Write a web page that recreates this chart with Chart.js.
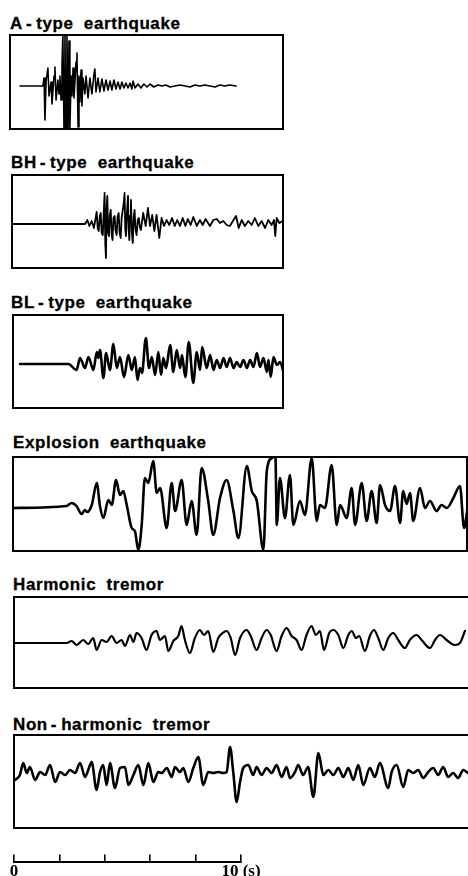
<!DOCTYPE html>
<html>
<head>
<meta charset="utf-8">
<script src="https://cdn.jsdelivr.net/npm/chart.js@4/dist/chart.umd.min.js"></script>
<style>
  html, body { margin:0; padding:0; background:#fff; }
  body { width:468px; height:876px; overflow:hidden; position:relative; }
  .ttl { position:absolute; font-family:"Liberation Sans", Arial, sans-serif; font-weight:bold; font-size:17px; line-height:17px; letter-spacing:0.6px; word-spacing:5px; color:#000; white-space:nowrap; -webkit-text-stroke:0.3px #000; }
  .ttl .h { margin:0 4px 0 3px; }
  canvas { position:absolute; }
</style>
</head>
<body>
<div class="ttl" style="left:10px;top:15px">A<span class="h">-</span>type earthquake</div>
<div class="ttl" style="left:11px;top:154px">BH<span class="h">-</span>type earthquake</div>
<div class="ttl" style="left:11px;top:294px">BL<span class="h">-</span>type earthquake</div>
<div class="ttl" style="left:13px;top:434px">Explosion earthquake</div>
<div class="ttl" style="left:13px;top:576px">Harmonic tremor</div>
<div class="ttl" style="left:13px;top:716px">Non<span class="h">-</span>harmonic tremor</div>

<canvas id="cA"></canvas>
<canvas id="cBH"></canvas>
<canvas id="cBL"></canvas>
<canvas id="cEx"></canvas>
<canvas id="cHa"></canvas>
<canvas id="cNh"></canvas>
<canvas id="cScale"></canvas>

<script>
// ---------------- DATA (time in s, amplitude in relative units) ----------------
const aTimes = [0.44,1.45,1.50,1.54,1.59,1.67,1.72,1.81,1.85,1.94,1.98,2.03,2.11,2.16,2.20,2.25,2.29,2.33,2.38,2.42,2.47,2.51,2.56,2.60,2.64,2.69,2.73,2.78,2.82,2.91,2.95,3.00,3.04,3.08,3.13,3.17,3.22,3.30,3.35,3.44,3.52,3.61,3.70,3.74,3.79,3.88,3.96,4.05,4.14,4.23,4.32,4.41,4.49,4.58,4.67,4.76,4.85,4.93,5.02,5.11,5.20,5.29,5.37,5.42,5.51,5.64,5.77,5.90,6.04,6.17,6.34,6.52,6.70,6.87,7.05,7.27,7.49,7.71,7.93,8.15,8.37,8.59,8.81,9.03,9.25,9.47,9.69,9.96];
const aValues = [0,0,8,-34,5,18,-10,4,-18,10,19,-14,6,-8,10,-14,20,51,-43,51,-43,51,-43,45,-43,10,-10,18,-12,24,33,-41,10,-16,16,-20,8,-8,10,-12,8,-8,12,17,-6,8,-6,7,-5,6,-4,5,-4,6,-3,4,-3,4,-2,3,-2,3,-3,5,-2,2,-2,2,-1,2,-1,1,0,1,-1,0,1,0,-1,1,0,1,0,-1,1,0,1,0];

const bhTimes = [0,3.22,3.32,3.41,3.51,3.61,
  3.73,3.78,3.82,3.87,3.91,3.95,4.00,4.04,4.08,4.11,4.14,4.17,4.20,4.23,4.27,4.31,4.35,4.39,4.43,4.47,4.52,4.56,4.61,4.65,4.70,4.74,4.79,4.83,4.88,4.92,4.96,4.99,5.02,5.06,5.11,5.14,5.17,5.20,5.24,5.28,5.32,5.36,5.40,5.44,5.49,5.54,5.59,5.63,5.68,
  5.78,5.89,5.99,6.08,6.18,6.27,6.37,6.49,6.59,6.70,6.81,6.93,7.05,7.17,7.28,7.40,7.52,7.64,7.75,7.87,7.99,8.14,8.28,8.40,8.53,8.72,8.87,9.02,9.16,9.31,9.46,9.60,9.76,9.87,9.99,10.12,10.26,10.41,10.56,10.70,10.85,11.00,11.15,11.29,11.44,11.54,11.60,11.66,11.78,11.92];
const bhValues = [0,0,4,-2,3,-4,
  12,-5,-7,8,11,-9,-11,10,31,-20,-34,15,28,-8,-12,9,14,-10,-16,6,8,-6,-11,7,11,-9,-14,6,14,20,31,-5,-12,10,28,-6,-16,8,24,-8,-19,6,14,-5,-11,4,6,-3,-6,
  11,-2,16,-2,9,-7,9,-14,6,-2,4,-1,6,-2,4,-2,6,-2,5,-1,7,-2,4,-1,5,-2,4,5,1,3,-1,-2,4,8,-4,4,-2,3,-1,6,-2,3,-4,4,-1,4,-12,6,1,3];

const blTimes = [0.31,2.44,2.80,2.95,3.17,3.32,3.54,3.69,3.76,3.83,3.98,4.10,4.27,4.42,4.57,4.71,4.89,5.08,5.23,5.37,5.48,5.59,5.68,5.85,5.99,6.11,6.26,6.40,6.52,6.62,6.74,6.92,7.06,7.21,7.36,7.44,7.59,7.74,7.94,8.09,8.24,8.33,8.53,8.68,8.83,8.97,9.12,9.27,9.41,9.56,9.71,9.85,10.00,10.15,10.30,10.44,10.59,10.74,10.88,11.03,11.18,11.25,11.35,11.47,11.62,11.76,11.94];
const blValues = [0,0,-6,6,-4,7,-6,12,6,14,-14,11,-6,20,-4,7,-13,9,-6,7,-16,-4,-9,26,-4,7,-11,12,-11,6,-4,19,-8,14,-4,9,-13,22,-19,12,-6,17,-4,9,-6,4,-4,6,-3,6,-4,2,-3,4,-4,4,-3,11,-3,6,-8,4,-13,7,-1,2,-11];

const exTimes = [0,2.36,2.58,2.80,3.02,3.17,3.27,3.47,3.69,3.83,3.98,4.20,4.35,4.54,4.71,4.86,5.01,5.23,5.37,5.52,5.67,5.81,5.96,6.18,6.33,6.48,6.77,6.99,7.14,7.43,7.65,7.87,8.09,8.31,8.60,8.82,9.12,9.41,9.71,9.93,10.30,10.52,10.74,11.03,11.18,11.40,11.56,11.62,11.76,11.98,12.20,12.35,12.64,12.86,13.16,13.38,13.52,13.74,14.04,14.26,14.41,14.70,14.92,15.07,15.36,15.58,15.80,16.02,16.17,16.39,16.61,16.83,17.05,17.19,17.34,17.49,17.63,17.93,18.15,18.37,18.66,18.88,19.11,19.40,19.69,19.87,20.04];
const exValues = [0,2,5,2,-6,-2,-4,3,25,2,-10,8,3,28,13,17,3,-20,-23,-42,-17,30,25,47,15,20,-20,25,-3,28,-17,7,-27,40,7,-27,10,28,-3,-30,42,17,7,-42,37,50,52,-17,30,-10,33,-17,7,-7,50,-13,3,0,43,-17,3,-10,20,-17,25,-13,17,-15,23,3,-3,22,-15,17,4,15,-13,20,0,7,-3,3,0,10,22,-20,3];

const haTimes = [0,2.32,2.54,2.76,3.05,3.27,3.49,3.64,3.86,4.08,4.30,4.52,4.74,4.89,5.11,5.26,5.40,5.62,5.84,6.06,6.28,6.43,6.65,6.80,7.02,7.24,7.38,7.53,7.75,7.97,8.19,8.37,8.56,8.78,9.00,9.19,9.37,9.55,9.74,9.96,10.25,10.43,10.69,10.91,11.13,11.31,11.57,11.79,12.01,12.23,12.45,12.67,12.89,13.11,13.30,13.48,13.66,13.89,14.07,14.29,14.51,14.73,14.88,15.07,15.21,15.46,15.68,15.86,16.05,16.27,16.49,16.71,16.93,17.22,17.44,17.74,17.96,18.33,18.55,18.77,19.06,19.43,19.65,19.87];
const haValues = [0,0,2,-2,3,-1,5,-7,3,1,7,0,3,-3,8,1,10,5,-7,8,12,3,7,-8,2,7,17,3,-10,5,13,8,12,-9,5,10,12,5,-12,5,13,7,-7,5,13,8,-8,7,15,7,3,-7,8,17,8,12,-7,10,13,8,-5,8,12,5,7,-8,7,13,5,-7,5,10,3,-5,3,8,3,-5,3,8,3,-2,0,12];

const nhTimes = [0.04,0.26,0.41,0.56,0.70,0.93,1.15,1.37,1.59,1.81,2.03,2.25,2.47,2.69,2.91,3.13,3.27,3.42,3.64,3.79,3.93,4.08,4.23,4.45,4.67,4.89,5.04,5.26,5.48,5.70,5.92,6.14,6.36,6.51,6.73,6.95,7.09,7.31,7.46,7.68,7.90,8.12,8.34,8.56,8.78,9.00,9.22,9.37,9.52,9.66,9.81,9.96,10.10,10.32,10.54,10.69,10.91,11.13,11.35,11.57,11.79,12.01,12.16,12.38,12.52,12.74,12.96,13.19,13.41,13.63,13.85,14.07,14.29,14.51,14.73,14.95,15.17,15.39,15.68,15.90,16.12,16.49,16.64,16.86,17.15,17.37,17.59,17.81,18.03,18.25,18.47,18.69,18.91,19.13,19.35,19.57,19.79,20.00];
const nhValues = [-5,0,12,2,8,-5,3,0,10,-7,3,0,5,2,12,-2,5,13,-15,3,10,-10,12,-13,7,8,-10,0,10,-10,12,-7,3,2,7,-2,8,3,7,-7,7,18,-10,3,2,3,2,3,28,3,-27,-7,7,10,0,8,0,7,2,10,-2,8,-3,3,10,0,8,-22,22,0,5,0,7,-2,7,-5,10,-10,7,-2,12,-13,3,10,-12,5,2,5,-3,3,7,0,8,-2,2,-3,5,2];

const scaleTickValues = [0, 2, 4, 6, 8, 10];
const scaleTickLabels = ['0', '', '', '', '', '10 (s)'];

// ---------------- LAYOUT ----------------
const PAD = 2;
const boxPlugin = {
  id: 'box',
  afterDraw(chart) {
    const { ctx, chartArea: a } = chart;
    ctx.save();
    ctx.strokeStyle = '#000';
    ctx.lineWidth = 2;
    ctx.strokeRect(a.left, a.top, a.right - a.left, a.bottom - a.top);
    ctx.restore();
  }
};

function panel(id, times, values, o) {
  const cv = document.getElementById(id);
  const w = o.right - o.left + 2 * PAD, h = o.bottom - o.top + 2 * PAD;
  cv.width = w; cv.height = h;
  cv.style.left = (o.left - PAD) + 'px';
  cv.style.top = (o.top - PAD) + 'px';
  cv.style.width = w + 'px'; cv.style.height = h + 'px';
  const n = Math.min(times.length, values.length);
  const pts = [];
  for (let i = 0; i < n; i++) pts.push({ x: times[i], y: values[i] });
  new Chart(cv, {
    type: 'line',
    data: { datasets: [{
      data: pts,
      borderColor: '#000',
      borderWidth: o.lw,
      pointRadius: 0,
      fill: false,
      cubicInterpolationMode: o.smooth ? 'monotone' : 'default',
      tension: 0,
      borderJoinStyle: 'round',
      borderCapStyle: 'round'
    }]},
    options: {
      responsive: false, animation: false, devicePixelRatio: 1, events: [],
      layout: { padding: PAD },
      plugins: { legend: { display: false }, tooltip: { enabled: false } },
      scales: {
        x: { type: 'linear', display: false, min: 0, max: o.xMax },
        y: { type: 'linear', display: false, min: o.yMin, max: o.yMax }
      }
    },
    plugins: [boxPlugin]
  });
}

panel('cA',  aTimes,  aValues,  { left:10, top:35,  right:283, bottom:129, xMax:12.03, yMin:-43, yMax:51, lw:1.6, smooth:false });
panel('cBH', bhTimes, bhValues, { left:12, top:175, right:283, bottom:268, xMax:11.94, yMin:-44, yMax:49, lw:1.8, smooth:false });
panel('cBL', blTimes, blValues, { left:13, top:315, right:283, bottom:408, xMax:11.89, yMin:-44, yMax:49, lw:2.6, smooth:true });
panel('cEx', exTimes, exValues, { left:13, top:457, right:467, bottom:551, xMax:20.0,  yMin:-43, yMax:51, lw:2.6, smooth:true });
panel('cHa', haTimes, haValues, { left:14, top:597, right:472, bottom:688, xMax:20.18, yMin:-45, yMax:46, lw:2.2, smooth:true });
panel('cNh', nhTimes, nhValues, { left:14, top:735, right:472, bottom:828, xMax:20.18, yMin:-53, yMax:40, lw:2.6, smooth:true });

// ---------------- TIME SCALE BAR ----------------
// Ticks point upward from the axis line (negative tick length), labels below.
(function () {
  const cv = document.getElementById('cScale');
  cv.width = 300; cv.height = 60;
  cv.style.left = '0px'; cv.style.top = '829px';
  cv.style.width = '300px'; cv.style.height = '60px';
  new Chart(cv, {
    type: 'line',
    data: { datasets: [] },
    options: {
      responsive: false, animation: false, devicePixelRatio: 1, events: [],
      layout: { padding: { left: 14, right: 59, top: 0, bottom: 0 } },
      plugins: { legend: { display: false }, tooltip: { enabled: false } },
      scales: {
        x: {
          type: 'linear', min: 0, max: 10,
          afterBuildTicks(scale) { scale.ticks = scaleTickValues.map(v => ({ value: v })); },
          ticks: {
            autoSkip: false, maxRotation: 0, padding: 7, color: '#000',
            font: { family: '"Liberation Serif", "Times New Roman", serif', size: 17, weight: 'bold' },
            callback(v) { const i = scaleTickValues.indexOf(v); return i >= 0 ? scaleTickLabels[i] : ''; }
          },
          grid: { display: true, drawOnChartArea: false, drawTicks: true, tickLength: -7, tickWidth: 1.6, tickColor: '#000', color: '#000', lineWidth: 1.6 },
          border: { display: true, color: '#000', width: 2 }
        },
        y: { display: false, min: 0, max: 1 }
      }
    }
  });
})();
</script>
</body>
</html>
